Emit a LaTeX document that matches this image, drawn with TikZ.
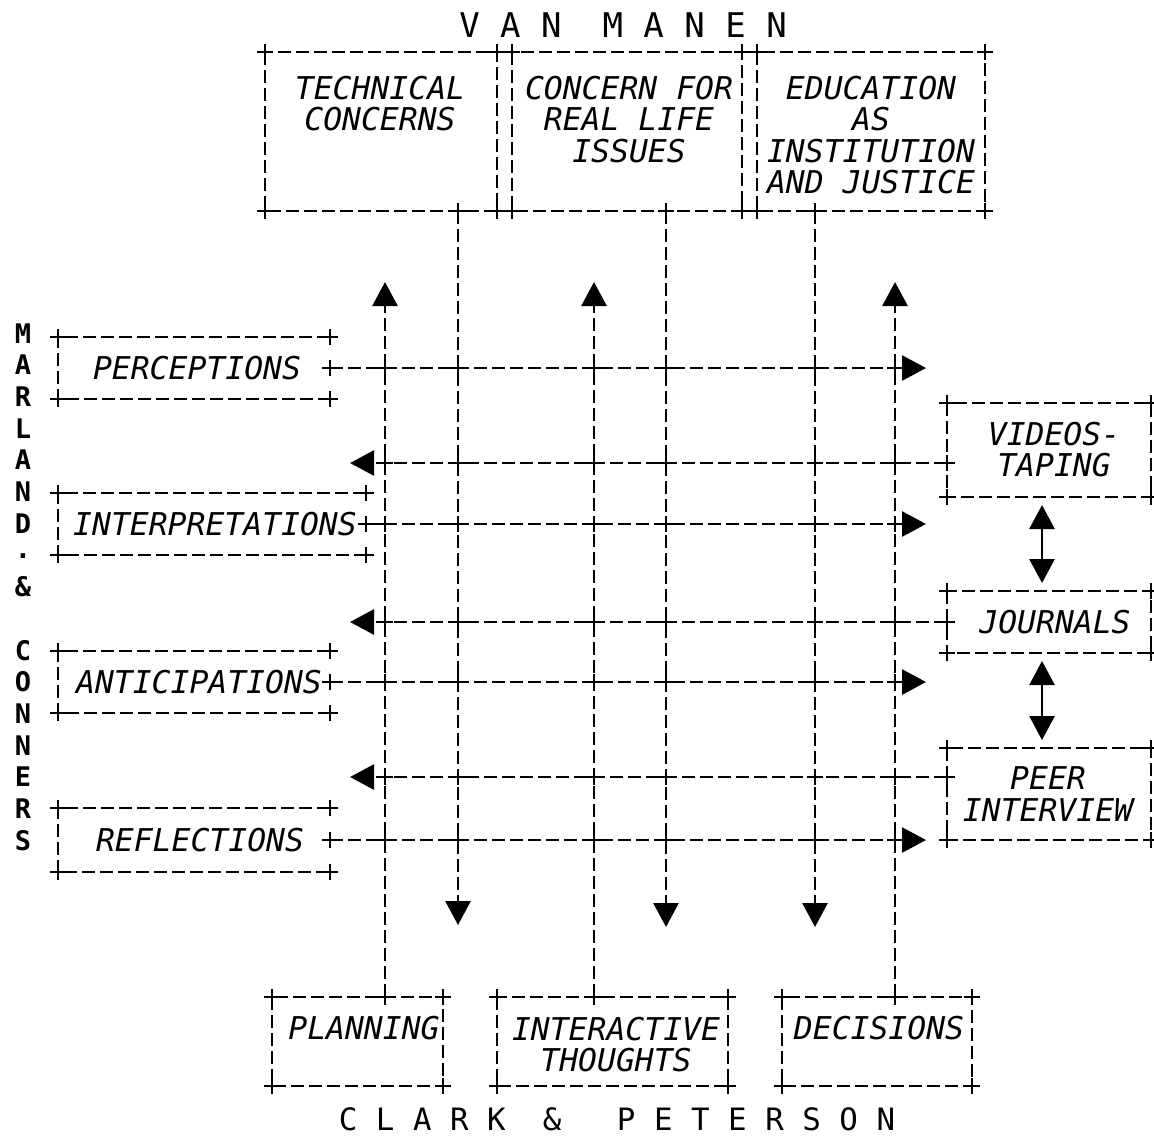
\documentclass[tikz,border=0pt]{standalone}
\usepackage{fontspec}
\usetikzlibrary{arrows.meta,calc,fit}
\newfontfamily\mono{DejaVu Sans Mono}
\tikzset{
  dl/.style={line width=1.35pt, dash pattern=on 6.5pt off 2.5pt},
  frm/.style={inner sep=0pt, outer sep=0pt, draw=none},
  lab/.style={inner sep=0pt, align=center, font=\mono\itshape\fontsize{15.7pt}{15.75pt}\selectfont},
  ttl/.style={inner sep=0pt, font=\mono\fontsize{17pt}{18pt}\selectfont},
  ttlb/.style={inner sep=0pt, font=\mono\fontsize{15.4pt}{18pt}\selectfont},
  side/.style={inner sep=0pt, align=center, font=\mono\bfseries\fontsize{13.5pt}{15.85pt}\selectfont},
  tip/.style={-{Triangle[length=12pt,width=12.5pt]}},
  dtip/.style={{Triangle[length=12pt,width=12.5pt]}-{Triangle[length=12pt,width=12.5pt]}},
  crs/.pic={\draw[solid,line width=1.35pt] (-3.8pt,0)--(3.8pt,0) (0,-3.8pt)--(0,3.8pt);},
}
\begin{document}
\begin{tikzpicture}[x=0.5pt,y=-0.5pt]
\useasboundingbox (0,0) rectangle (1154,1142);
% ---------- box frames (as fitted nodes) ----------
\node[frm, fit={(265,52)(497,211)}] (t1) {};
\node[frm, fit={(512,52)(742,211)}] (t2) {};
\node[frm, fit={(757,52)(985,211)}] (t3) {};
\node[frm, fit={(58,337)(330,399)}] (lp) {};
\node[frm, fit={(58,493)(366,555)}] (li) {};
\node[frm, fit={(58,651)(330,713)}] (la) {};
\node[frm, fit={(58,808)(330,872)}] (lr) {};
\node[frm, fit={(947,403)(1151,497)}] (rv) {};
\node[frm, fit={(947,591)(1151,653)}] (rj) {};
\node[frm, fit={(947,748)(1151,840)}] (rp) {};
\node[frm, fit={(272,997)(443,1086)}] (bp) {};
\node[frm, fit={(497,997)(728,1086)}] (bi) {};
\node[frm, fit={(782,997)(972,1086)}] (bd) {};
\foreach \b in {t1,t2,t3,rv,rj,rp,bp,bi,bd}{
  \draw[dl] (\b.north west) rectangle (\b.south east);
  \foreach \a in {north west,north east,south west,south east} \pic at (\b.\a) {crs};
}
\foreach \b in {lp,li,la,lr}{
  \draw[dl] (\b.north east) -- (\b.north west) -- (\b.south west) -- (\b.south east);
  \foreach \a in {north west,north east,south west,south east} \pic at (\b.\a) {crs};
}
% ---------- labels ----------
\node[lab, anchor=north] (t1l) at (380,75.5) {TECHNICAL\\CONCERNS};
\node[lab, anchor=north] (t2l) at (629,75.5) {CONCERN FOR\\REAL LIFE\\ISSUES};
\node[lab, anchor=north] (t3l) at (871,75.5) {EDUCATION\\AS\\INSTITUTION\\AND JUSTICE};
\node[lab] (lpl) at (197,368) {PERCEPTIONS};
\node[lab] (lil) at (215,524) {INTERPRETATIONS};
\node[lab] (lal) at (199,682) {ANTICIPATIONS};
\node[lab] (lrl) at (200,840) {REFLECTIONS};
\node[lab, anchor=north] (rvl) at (1054,421.5) {VIDEOS-\\TAPING};
\node[lab] (rjl) at (1055,622) {JOURNALS};
\node[lab, anchor=north] (rpl) at (1048,766.5) {PEER\\INTERVIEW};
\node[lab] (bpl) at (364,1028) {PLANNING};
\node[lab, anchor=north] (bil) at (616,1016.5) {INTERACTIVE\\THOUGHTS};
\node[lab] (bdl) at (879,1028) {DECISIONS};
\node[ttl] (vm) at (623,25) {V~A~N~~M~A~N~E~N};
\node[ttlb] (cp) at (617,1119) {C~L~A~R~K~~\&~~~P~E~T~E~R~S~O~N};
\node[side, anchor=north] (mc) at (23,323) {M\\A\\R\\L\\A\\N\\D\\·\\\&\\[15.85pt]C\\O\\N\\N\\E\\R\\S};
% ---------- arrow tip coordinates ----------
\coordinate (d1) at (458,925);
\coordinate (d2) at (666,927);
\coordinate (d3) at (815,927);
\coordinate (u1) at (385,282);
\coordinate (u2) at (594,282);
\coordinate (u3) at (895,282);
\coordinate (r1) at (926,368);
\coordinate (r2) at (926,524);
\coordinate (r3) at (926,682);
\coordinate (r4) at (926,840);
\coordinate (l1) at (350,463);
\coordinate (l2) at (350,622);
\coordinate (l3) at (350,777);
\coordinate (dx) at (1042,0);
% ---------- vertical connectors ----------
\draw[dl,tip] (t1.south -| d1) -- (d1);
\draw[dl,tip] (t2.south -| d2) -- (d2);
\draw[dl,tip] (t3.south -| d3) -- (d3);
\draw[dl,tip] (bp.north -| u1) -- (u1);
\draw[dl,tip] (bi.north -| u2) -- (u2);
\draw[dl,tip] (bd.north -| u3) -- (u3);
% ---------- horizontal connectors ----------
\draw[dl,tip] (lp.east) -- (r1);
\draw[dl,tip] (li.east) -- (r2);
\draw[dl,tip] (la.east) -- (r3);
\draw[dl,tip] (lr.east) -- (r4);
\draw[dl,tip] (rv.west |- l1) -- (l1);
\draw[dl,tip] (rj.west |- l2) -- (l2);
\draw[dl,tip] (rp.west |- l3) -- (l3);
% ---------- double arrows ----------
\draw[line width=1.35pt, dtip, shorten <=4pt, shorten >=4pt] (rv.south -| dx) -- (rj.north -| dx);
\draw[line width=1.35pt, dtip, shorten <=4pt, shorten >=4pt] (rj.south -| dx) -- (rp.north -| dx);
% ---------- plus marks at attachments ----------
\foreach \p in {lp.east,li.east,la.east,lr.east} \pic at (\p) {crs};
\pic at (rv.west |- l1) {crs};
\pic at (rj.west |- l2) {crs};
\pic at (rp.west |- l3) {crs};
\pic at (t1.south -| d1) {crs};
\pic at (t2.south -| d2) {crs};
\pic at (t3.south -| d3) {crs};
\pic at (bp.north -| u1) {crs};
\pic at (bi.north -| u2) {crs};
\pic at (bd.north -| u3) {crs};
% ---------- plus marks at crossings ----------
\foreach \yy in {368,463,524,622,682,777,840}
  \foreach \xx in {385,458,594,666,815,895}
    \pic at (\xx,\yy) {crs};
\end{tikzpicture}
\end{document}
